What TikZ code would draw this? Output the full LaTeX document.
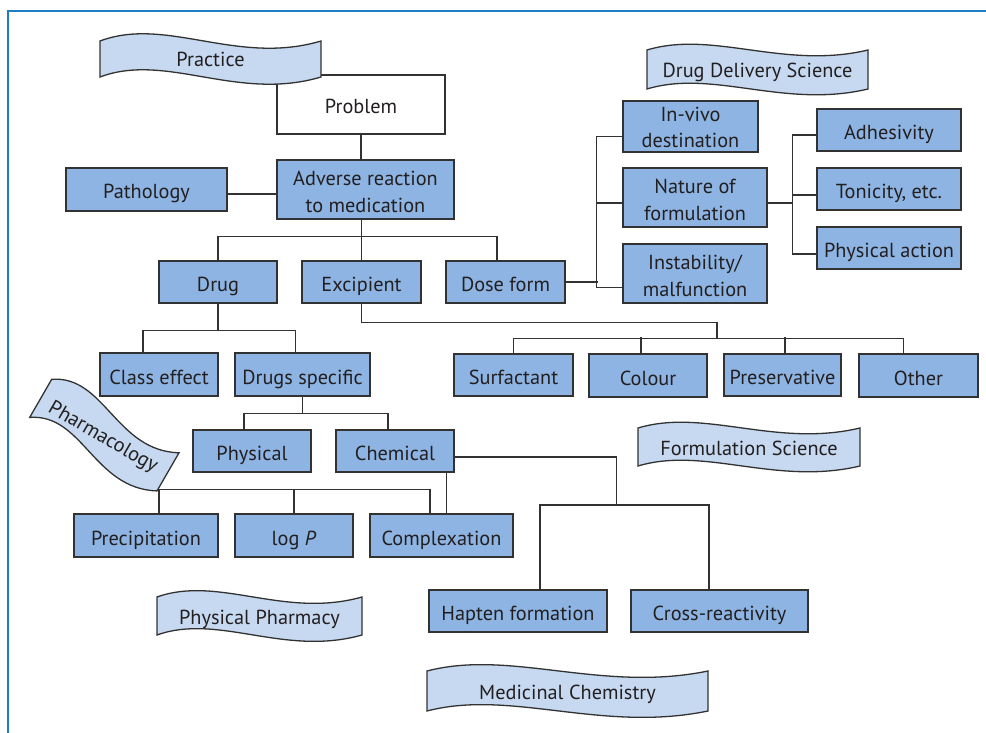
\documentclass[tikz,border=0pt]{standalone}
\usepackage{fontspec}
\setmainfont{PT Sans}
\usetikzlibrary{calc}

\definecolor{boxblue}{RGB}{141,180,226}
\definecolor{ribbonblue}{RGB}{198,217,240}
\definecolor{linegray}{RGB}{50,50,50}
\definecolor{txt}{RGB}{35,31,32}
\definecolor{framecol}{RGB}{30,125,195}

\newcommand\mainsize{\fontsize{20.3}{26.5}\selectfont}

% ribbon: name, x, y (top-left corner), width, height, wave, rotation, text
\newcommand\ribbon[8]{%
  \begin{scope}[shift={(#2,#3)}, rotate=#7]
    \path[ribbonshape] (0,0) .. controls ({0.3*#4},{-#6}) and ({0.62*#4},{#6}) .. (#4,0)
      -- (#4,#5) .. controls ({0.62*#4},{#5+#6}) and ({0.3*#4},{#5-#6}) .. (0,#5) -- cycle;
    \node[ribbontext, rotate=#7] (#1) at ({#4/2},{#5/2}) {#8};
  \end{scope}}

\tikzset{
  box/.style={draw=linegray, line width=1.4pt, fill=boxblue, inner sep=0pt,
    align=center, text=txt, font=\mainsize, text height=21pt, text depth=2pt},
  twoline/.style={text height=47pt, text depth=2pt},
  plainbox/.style={box, fill=white},
  conn/.style={draw=linegray, line width=1.3pt},
  ribbonshape/.style={draw=linegray, line width=1.3pt, fill=ribbonblue},
  ribbontext/.style={text=txt, font=\mainsize, inner sep=0pt, text height=18pt, text depth=2pt},
}

\begin{document}
\begin{tikzpicture}[x=1pt, y=-1pt]
\useasboundingbox (0,0) rectangle (986,733);

% frame
\draw[framecol, line width=2.2pt] (986,11) -- (8,11) -- (8,733);

% boxes
\node[plainbox, minimum width=168, minimum height=59] (problem) at (361,104.5) {Problem};
\node[box, twoline, minimum width=177, minimum height=59] (adverse) at (365.5,189.5) {Adverse reaction\\to medication};
\node[box, minimum width=161, minimum height=43] (pathology) at (146.5,189.5) {Pathology};
\node[box, minimum width=118, minimum height=42] (drug) at (218,282) {Drug};
\node[box, minimum width=119, minimum height=42] (excipient) at (361.5,282) {Excipient};
\node[box, minimum width=119, minimum height=42] (doseform) at (505.5,282) {Dose form};
\node[box, minimum width=118, minimum height=43] (classeffect) at (159,374.5) {Class effect};
\node[box, minimum width=135, minimum height=43] (drugsspec) at (302.5,374.5) {Drugs specific};
\node[box, minimum width=118, minimum height=42] (physical) at (252,451) {Physical};
\node[box, minimum width=118, minimum height=42] (chemical) at (395,451) {Chemical};
\node[box, minimum width=144, minimum height=43] (precip) at (146,535.5) {Precipitation};
\node[box, minimum width=118, minimum height=43] (logp) at (294,535.5) {log \textit{P}};
\node[box, minimum width=143, minimum height=43] (complex) at (441.5,535.5) {Complexation};
\node[box, minimum width=178, minimum height=42] (hapten) at (518,611) {Hapten formation};
\node[box, minimum width=177, minimum height=42] (cross) at (719.5,611) {Cross-reactivity};
\node[box, minimum width=119, minimum height=42] (surfactant) at (513.5,375) {Surfactant};
\node[box, minimum width=118, minimum height=43] (colour) at (648,375.5) {Colour};
\node[box, minimum width=117, minimum height=42] (preserv) at (782.5,375) {Preservative};
\node[box, minimum width=119, minimum height=43] (other) at (918.5,375.5) {Other};
\node[box, twoline, text height=45pt, minimum width=135, minimum height=51] (invivo) at (690.5,126.5) {In-vivo\\destination};
\node[box, twoline, minimum width=144, minimum height=59] (nature) at (695,197.5) {Nature of\\formulation};
\node[box, twoline, minimum width=144, minimum height=59] (instab) at (695,273.5) {Instability/\\malfunction};
\node[box, minimum width=144, minimum height=42] (adhes) at (889,130) {Adhesivity};
\node[box, minimum width=144, minimum height=42] (tonic) at (889,189) {Tonicity, etc.};
\node[box, minimum width=144, minimum height=42] (physact) at (889,248) {Physical action};

% connectors
\draw[conn] (problem.south) -- (problem.south |- adverse.north);
\draw[conn] ($(pathology.east)+(0,4.5)$) -- ($(adverse.west)+(0,4.5)$);
\draw[conn] (excipient.north) -- (excipient.north |- adverse.south);
\draw[conn] (drug.north) -- ++(0,-24) -| ($(doseform.north)+(-8.5,0)$);

\draw[conn] (drug.south) -- ++(0,27) coordinate (drugbus);
\draw[conn] ($(classeffect.north)+(-16,0)$) |- (drugbus) -| ($(drugsspec.north)+(-7,0)$);

\draw[conn] (drugsspec.south) -- ++(0,17) coordinate (specbus);
\draw[conn] ($(physical.north)+(-8,0)$) |- (specbus) -| ($(chemical.north)+(-7,0)$);

\draw[conn] ($(precip.north)+(13,0)$) -- ++(0,-23.5) -| ($(complex.north)+(-11.5,0)$);
\draw[conn] (logp.north) -- ++(0,-23.5);
\draw[conn] ($(chemical.south)+(51.7,0)$) -- ($(complex.north)+(5.2,0)$);

\draw[conn] ($(chemical.east)+(0,6)$) -| ++(162,48) coordinate (chembus);
\draw[conn] ($(hapten.north)+(22,0)$) |- (chembus) -| ($(cross.north)+(-10.5,0)$);

\draw[conn] (excipient.south) |- ++(355.5,19) -- ++(0,16) coordinate (excbus);
\draw[conn] (surfactant.north) |- (excbus) -| ($(other.north)+(-15,0)$);
\draw[conn] ($(colour.north)+(-7,0)$) -- ++(0,-16);
\draw[conn] ($(preserv.north)+(2.5,0)$) -- ++(0,-16);

\draw[conn] (doseform.east) -- ++(32,0);
\draw[conn] ($(invivo.west)+(0,10)$) -| ($(instab.west)+(-26,14)$) -- ($(instab.west)+(0,14)$);
\draw[conn] ($(nature.west)+(0,5.5)$) -- ++(-26,0);

\draw[conn] ($(nature.east)+(0,5.5)$) -- ++(25.7,0);
\draw[conn] ($(adhes.west)+(0,5)$) -| ($(physact.west)+(-24,6)$) -- ($(physact.west)+(0,6)$);
\draw[conn] ($(tonic.west)+(0,6)$) -- ++(-24,0);

% discipline ribbons
\ribbon{practice}{100}{41}{221}{36}{25}{0}{Practice}
\ribbon{dds}{647}{50}{221}{39}{20}{0}{Drug Delivery Science}
\ribbon{formsci}{638}{428}{222}{38}{20}{0}{Formulation Science}
\ribbon{physpharm}{157}{597}{205}{38}{22}{0}{Physical Pharmacy}
\ribbon{medchem}{427}{671}{281}{40}{22}{0}{Medicinal Chemistry}
\ribbon{pharmacol}{51.7}{379.3}{147}{44}{30}{-30}{Pharmacology}

\end{tikzpicture}
\end{document}
